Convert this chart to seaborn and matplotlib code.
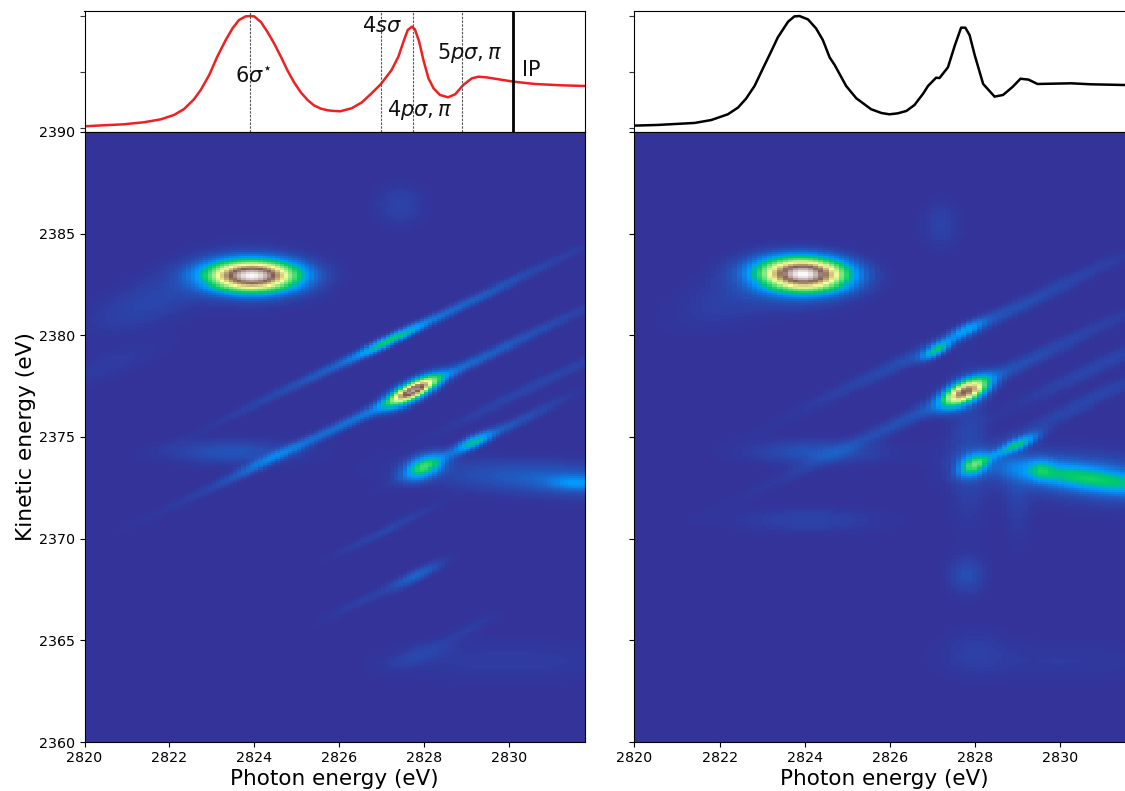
import numpy as np
import pandas as pd
import matplotlib
matplotlib.use("Agg")
import matplotlib.pyplot as plt
import seaborn as sns

# Top panel traces (photon energy, normalised yield)
red_hv = [2820.00,2820.46,2820.93,2821.40,2821.80,2822.11,2822.35,2822.58,2822.74,2822.94,2823.13,2823.33,2823.49,2823.64,2823.80,2823.90,2824.00,2824.16,2824.31,2824.47,2824.63,2824.78,2824.94,2825.10,2825.26,2825.41,2825.57,2825.73,2825.88,2826.03,2826.30,2826.54,2826.77,2826.99,2827.24,2827.40,2827.52,2827.62,2827.72,2827.79,2827.89,2827.99,2828.11,2828.23,2828.38,2828.57,2828.74,2828.93,2829.13,2829.29,2829.48,2829.76,2830.11,2830.62,2831.25,2831.80]
red_val = [0.015,0.024,0.033,0.051,0.077,0.116,0.170,0.256,0.339,0.473,0.637,0.786,0.890,0.964,0.997,1.000,0.997,0.946,0.860,0.756,0.637,0.518,0.408,0.318,0.250,0.202,0.173,0.158,0.152,0.149,0.176,0.229,0.310,0.393,0.518,0.637,0.771,0.875,0.905,0.881,0.771,0.607,0.443,0.354,0.295,0.274,0.301,0.384,0.443,0.458,0.452,0.435,0.414,0.393,0.381,0.375]
black_hv = [2820.00,2820.55,2821.42,2821.81,2822.20,2822.44,2822.63,2822.83,2823.03,2823.22,2823.38,2823.62,2823.77,2823.89,2824.09,2824.28,2824.44,2824.60,2824.72,2824.99,2825.23,2825.58,2825.82,2826.01,2826.21,2826.41,2826.60,2826.80,2826.92,2827.11,2827.19,2827.39,2827.55,2827.70,2827.80,2827.90,2828.02,2828.22,2828.49,2828.69,2828.92,2829.10,2829.29,2829.50,2830.30,2830.77,2831.80]
black_val = [0.021,0.027,0.045,0.071,0.122,0.182,0.262,0.375,0.533,0.682,0.810,0.949,0.997,1.000,0.970,0.890,0.786,0.631,0.562,0.375,0.265,0.167,0.134,0.122,0.131,0.152,0.205,0.304,0.375,0.449,0.446,0.542,0.735,0.896,0.896,0.830,0.652,0.393,0.280,0.295,0.369,0.440,0.432,0.393,0.399,0.390,0.382]

# Resonance markers
res_hv = [2823.9, 2827.0, 2827.75, 2828.9]
ip_hv = 2830.1
res_text = [r"$6\sigma^{\star}$", r"$4s\sigma$", r"$5p\sigma,\pi$", r"$4p\sigma,\pi$", "IP"]
res_text_hv = [2823.98, 2827.02, 2829.09, 2827.91, 2830.53]
res_text_val = [0.46, 0.91, 0.67, 0.16, 0.518]

hv_ticks = [2820, 2822, 2824, 2826, 2828, 2830]
ke_ticks = [2360, 2365, 2370, 2375, 2380, 2385, 2390]

# Map features: centre, amplitude, widths, tilt
left_hv  = [2823.95,2823.95,2821.6,2820.5,2827.2,2827.5,2827.75,2827.3,2824.3,2823.5,2828.0,2829.16,2829.5,2831.6,2831.3,2827.44,2827.84,2826.6,2827.1,2827.9,2830.0,2829.1,2830.6]
left_ke  = [2382.92,2382.92,2381.7,2378.5,2379.75,2380.07,2377.27,2376.82,2373.85,2374.26,2373.53,2374.76,2375.05,2372.75,2372.9,2386.4,2368.2,2367.0,2370.4,2364.3,2364.0,2365.6,2377.5]
left_amp = [0.94,0.05,0.03,0.015,0.17,0.09,0.76,0.10,0.05,0.05,0.28,0.17,0.06,0.09,0.07,0.025,0.07,0.02,0.028,0.025,0.015,0.015,0.03]
left_su  = [0.66,0.90,1.0,1.0,0.50,2.2,0.36,2.6,0.6,1.0,0.30,0.28,1.1,0.45,2.0,0.4,0.4,0.7,0.8,0.5,2.0,0.5,1.5]
left_sv  = [0.46,0.85,0.8,0.5,0.18,0.19,0.30,0.20,0.2,0.4,0.36,0.22,0.20,0.24,0.55,0.7,0.22,0.2,0.18,0.3,0.7,0.25,0.22]
left_tilt= [0.0,0.0,0.7,0.7,1.0,1.0,0.95,1.0,1.0,0.0,0.6,0.9,1.0,-0.05,-0.12,0.0,1.0,1.0,1.0,0.6,0.0,1.0,1.0]

right_hv  = [2823.97,2823.7,2822.3,2827.09,2827.8,2827.8,2827.77,2827.6,2827.98,2829.02,2828.5,2830.7,2829.55,2830.8,2827.2,2827.8,2824.26,2824.1,2828.0,2830.0,2827.85,2829.0,2830.5,2830.9]
right_ke  = [2383.0,2382.6,2381.8,2379.28,2380.27,2380.2,2377.2,2377.1,2373.63,2374.66,2374.13,2372.95,2373.4,2373.0,2385.43,2368.2,2374.26,2370.9,2364.5,2364.0,2374.5,2372.0,2376.6,2378.5]
right_amp = [0.95,0.05,0.02,0.22,0.12,0.05,0.68,0.05,0.26,0.18,0.07,0.20,0.10,0.07,0.025,0.04,0.05,0.025,0.015,0.012,0.03,0.02,0.03,0.03]
right_su  = [0.64,0.85,1.0,0.22,0.28,2.3,0.34,2.6,0.22,0.30,0.5,1.25,0.20,1.6,0.3,0.3,1.0,1.2,0.5,2.0,0.3,0.22,1.5,1.4]
right_sv  = [0.50,0.80,0.9,0.20,0.22,0.28,0.36,0.28,0.34,0.22,0.16,0.40,0.34,0.8,0.8,0.6,0.4,0.4,0.8,0.7,2.5,1.5,0.3,0.3]
right_tilt= [-0.04,-0.1,0.5,1.0,1.0,1.0,0.8,1.0,0.6,0.9,1.0,-0.28,0.0,-0.2,0.0,0.0,0.0,0.0,0.0,0.0,0.0,0.0,1.0,1.0]

HV0, HV1, KE0, KE1 = 2820.0, 2831.8, 2360.0, 2390.0
W, H = 1125, 791


def build(hv, ke, amp, su, sv, tilt, dhv, dke):
    xs = np.arange(HV0 + dhv / 2, HV1, dhv)
    ys = np.arange(KE0 + dke / 2, KE1, dke)
    X, Y = np.meshgrid(xs, ys)
    Z = np.zeros_like(X)
    for h, k, a, u, v, t in zip(hv, ke, amp, su, sv, tilt):
        dx = X - h
        dy = (Y - k) - t * dx
        Z += a * np.exp(-0.5 * (dx / u) ** 2 - 0.5 * (dy / v) ** 2)
    return pd.DataFrame(Z, index=ys, columns=xs)


def axes_px(l, t, r, b):
    return fig.add_axes([l / W, 1 - b / H, (r - l) / W, (b - t) / H])


fig = plt.figure(figsize=(W / 100, H / 100), dpi=100)
panels = [
    (84.5, 585.0, red_hv, red_val, "#ee2020", build(left_hv, left_ke, left_amp, left_su, left_sv, left_tilt, 0.1, 0.1), 0.1),
    (634.5, 1135.0, black_hv, black_val, "black", build(right_hv, right_ke, right_amp, right_su, right_sv, right_tilt, 0.12, 0.1), 0.12),
]

for i, (l, r, tx, ty, col, df, dhv) in enumerate(panels):
    top = axes_px(l, 11, r, 132)
    sns.lineplot(x=tx, y=ty, color=col, lw=1.8, ax=top, errorbar=None)
    top.set_xlim(HV0, HV1)
    top.set_ylim(-0.036, 1.045)
    top.set_xticks([])
    top.set_yticks([0, 0.5, 1])
    top.set_yticklabels([])
    top.tick_params(length=3.5, width=0.8, color="#333333")

    ax = axes_px(l, 132, r, 742)
    sns.heatmap(df, ax=ax, cmap="terrain", vmin=0, vmax=1, cbar=False,
                xticklabels=False, yticklabels=False, rasterized=True)
    ax.set_xlim(0, df.shape[1])
    ax.set_ylim(0, df.shape[0])
    for s in ax.spines.values():
        s.set_visible(True)
        s.set_linewidth(0.8)
    ax.set_xticks([(v - HV0) / dhv for v in hv_ticks])
    ax.set_xticklabels([str(v) for v in hv_ticks], rotation=0, fontsize=10.3)
    ax.set_yticks([(v - KE0) / 0.1 for v in ke_ticks])
    ax.tick_params(length=3.5, width=0.8, pad=3)
    ax.set_xlabel("Photon energy (eV)", fontsize=15.5, labelpad=3)
    if i == 0:
        ax.set_yticklabels([str(v) for v in ke_ticks], rotation=0, fontsize=10.3)
        ax.set_ylabel("Kinetic energy (eV)", fontsize=15.7, labelpad=2)
        for v in res_hv:
            top.axvline(v, color="#555555", lw=0.8, ls=(0, (2.2, 1.2)))
        top.axvline(ip_hv, color="black", lw=2)
        for s, a, b in zip(res_text, res_text_hv, res_text_val):
            top.text(a, b, s, fontsize=15, ha="center", va="center", color="#111111")
    else:
        ax.set_yticklabels([])
        ax.set_ylabel("")

fig.savefig("out.png", dpi=100)
